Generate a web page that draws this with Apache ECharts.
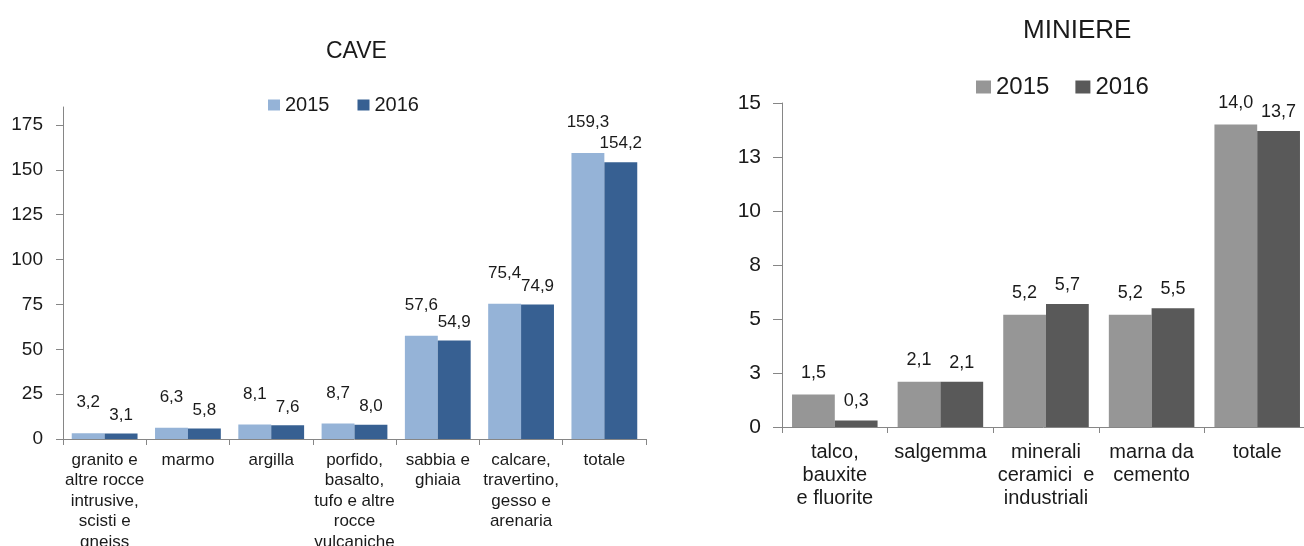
<!DOCTYPE html>
<html>
<head>
<meta charset="utf-8">
<script src="https://cdn.jsdelivr.net/npm/echarts@6/dist/echarts.min.js"></script>
<style>
  html, body { margin: 0; padding: 0; background: #fff; }
  #left { position: absolute; left: 0; top: 0; width: 652px; height: 546px; }
  #right { position: absolute; left: 652px; top: 0; width: 652px; height: 546px; }
</style>
</head>
<body>
<div id="left"></div>
<div id="right"></div>
<script>
// ---- CAVE data ----
const caveCategories = [
  'granito e\naltre rocce\nintrusive,\nscisti e\ngneiss',
  'marmo',
  'argilla',
  'porfido,\nbasalto,\ntufo e altre\nrocce\nvulcaniche',
  'sabbia e\nghiaia',
  'calcare,\ntravertino,\ngesso e\narenaria',
  'totale'
];
const cave2015 = [3.2, 6.3, 8.1, 8.7, 57.6, 75.4, 159.3];
const cave2016 = [3.1, 5.8, 7.6, 8.0, 54.9, 74.9, 154.2];
const caveTicks = [0, 25, 50, 75, 100, 125, 150, 175];

// ---- MINIERE data ----
const mineCategories = [
  'talco,\nbauxite\ne fluorite',
  'salgemma',
  'minerali\nceramici  e\nindustriali',
  'marna da\ncemento',
  'totale'
];
const mine2015 = [1.5, 2.1, 5.2, 5.2, 14.0];
const mine2016 = [0.3, 2.1, 5.7, 5.5, 13.7];
const mineTickLabels = ['0', '3', '5', '8', '10', '13', '15'];

const FONT = 'Liberation Sans, Arial, sans-serif';
const AXIS_COLOR = '#868686';
const TEXT_COLOR = '#1a1a1a';
const fmt = v => v.toFixed(1).replace('.', ',');

function barSeries(name, data, color, fontSize, distance) {
  return {
    name: name,
    type: 'bar',
    data: data,
    barGap: '0%',
    itemStyle: { color: color },
    label: {
      show: true,
      position: 'top',
      distance: distance,
      fontFamily: FONT,
      fontSize: fontSize,
      color: TEXT_COLOR,
      formatter: p => fmt(p.value)
    }
  };
}

// ---- Left chart ----
const left = echarts.init(document.getElementById('left'), null, { renderer: 'canvas' });
left.setOption({
  animation: false,
  title: {
    text: 'CAVE',
    left: 321,
    top: 35,
    textStyle: { fontFamily: FONT, fontSize: 23, fontWeight: 'normal', color: TEXT_COLOR }
  },
  legend: {
    data: ['2015', '2016'],
    left: 263,
    top: 90,
    itemWidth: 12,
    itemHeight: 11,
    itemGap: 28,
    icon: 'rect',
    textStyle: { fontFamily: FONT, fontSize: 20, color: TEXT_COLOR }
  },
  grid: { left: 63, right: 6, top: 107, bottom: 107, containLabel: false, outerBoundsMode: 'none' },
  xAxis: {
    type: 'category',
    data: caveCategories,
    axisLine: { lineStyle: { color: AXIS_COLOR } },
    axisTick: { show: true, length: 6, lineStyle: { color: AXIS_COLOR } },
    axisLabel: {
      interval: 0,
      margin: 11,
      fontFamily: FONT,
      fontSize: 17,
      lineHeight: 20.5,
      color: TEXT_COLOR
    }
  },
  yAxis: {
    type: 'value',
    min: 0,
    max: 185,
    splitLine: { show: false },
    axisLine: { show: true, lineStyle: { color: AXIS_COLOR } },
    axisTick: { show: true, length: 7, customValues: caveTicks, lineStyle: { color: AXIS_COLOR } },
    axisLabel: {
      customValues: caveTicks,
      margin: 20,
      fontFamily: FONT,
      fontSize: 19,
      color: TEXT_COLOR
    }
  },
  series: [
    Object.assign(barSeries('2015', cave2015, '#95B3D7', 17, 22), { barCategoryGap: '21%' }),
    Object.assign(barSeries('2016', cave2016, '#376092', 17, 10), { barCategoryGap: '21%' })
  ]
});

// ---- Right chart ----
const right = echarts.init(document.getElementById('right'), null, { renderer: 'canvas' });
right.setOption({
  animation: false,
  title: {
    text: 'MINIERE',
    left: 366,
    top: 13,
    textStyle: { fontFamily: FONT, fontSize: 26, fontWeight: 'normal', color: TEXT_COLOR }
  },
  legend: {
    data: ['2015', '2016'],
    left: 319,
    top: 70,
    itemWidth: 15,
    itemHeight: 13,
    itemGap: 26,
    icon: 'rect',
    textStyle: { fontFamily: FONT, fontSize: 24, color: TEXT_COLOR }
  },
  grid: { left: 130, right: -6, top: 103, bottom: 119, containLabel: false, outerBoundsMode: 'none' },
  xAxis: {
    type: 'category',
    data: mineCategories,
    axisLine: { lineStyle: { color: AXIS_COLOR } },
    axisTick: { show: true, length: 6, lineStyle: { color: AXIS_COLOR } },
    axisLabel: {
      interval: 0,
      margin: 14,
      fontFamily: FONT,
      fontSize: 20,
      lineHeight: 23,
      color: TEXT_COLOR
    }
  },
  yAxis: {
    type: 'value',
    min: 0,
    max: 15,
    interval: 2.5,
    splitLine: { show: false },
    axisLine: { show: true, lineStyle: { color: AXIS_COLOR } },
    axisTick: { show: true, length: 9, lineStyle: { color: AXIS_COLOR } },
    axisLabel: {
      margin: 21,
      fontFamily: FONT,
      fontSize: 21,
      color: TEXT_COLOR,
      formatter: v => mineTickLabels[Math.round(v / 2.5)]
    }
  },
  series: [
    Object.assign(barSeries('2015', mine2015, '#969696', 18, 13), { barCategoryGap: '19%' }),
    Object.assign(barSeries('2016', mine2016, '#595959', 18, 10), { barCategoryGap: '19%' })
  ]
});
</script>
</body>
</html>
